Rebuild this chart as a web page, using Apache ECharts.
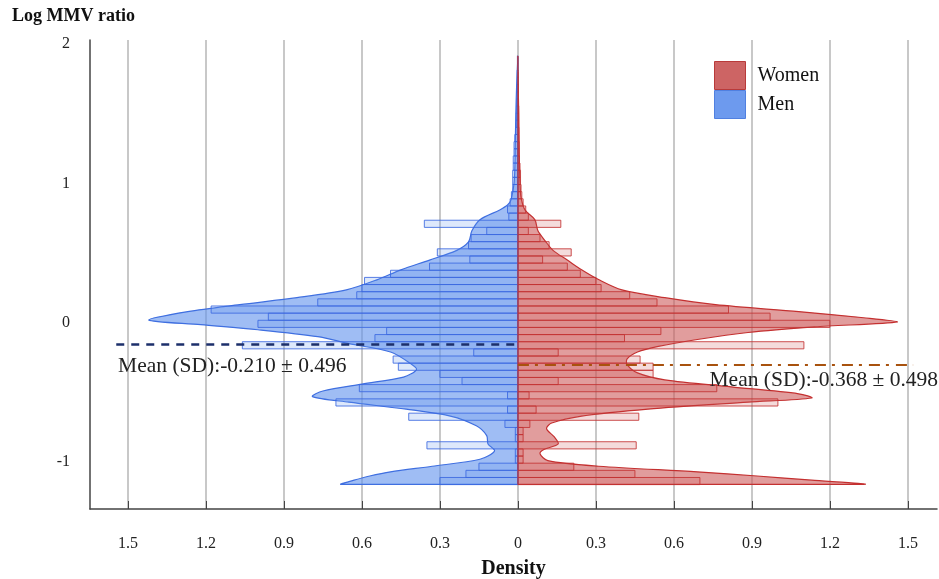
<!DOCTYPE html>
<html>
<head>
<meta charset="utf-8">
<script src="https://cdn.jsdelivr.net/npm/echarts@6/dist/echarts.min.js"></script>
<style>
  html, body { margin: 0; padding: 0; background: #fff; }
  #chart { width: 939px; height: 579px; }
</style>
</head>
<body>
<div id="chart"></div>
<script>
// histogram bins (bottom edge of first bin and bin width, in log MMV ratio)
const binStart = -1.162
const binWidth = 0.0513

// bar lengths (density) per bin, from bottom to top
const womenBins = [
  0.7, 0.45, 0.215, 0.02, 0.02, 0.455, 0.02, 0.02, 0.046, 0.465,
  0.07, 1.0, 0.043, 0.765, 0.155, 0.52, 0.52, 0.47, 0.155, 1.1,
  0.41, 0.55, 1.2, 0.97, 0.81, 0.535, 0.43, 0.32, 0.3, 0.24,
  0.19, 0.095, 0.205, 0.12, 0.085, 0.04, 0.165, 0.04, 0.03, 0.02,
  0.015, 0.012, 0.01, 0.01, 0.008, 0.006, 0.005, 0.005, 0.004, 0.004,
  0.003, 0.003, 0.003, 0.002, 0.002, 0.002, 0.001, 0.001, 0, 0
]
const menBins = [
  0.3, 0.2, 0.15, 0.01, 0.01, 0.35, 0.01, 0.01, 0.05, 0.42,
  0.04, 0.7, 0.04, 0.61, 0.215, 0.3, 0.46, 0.48, 0.17, 1.06,
  0.55, 0.505, 1.0, 0.96, 1.18, 0.77, 0.62, 0.6, 0.59, 0.49,
  0.34, 0.185, 0.31, 0.19, 0.18, 0.12, 0.36, 0.035, 0.04, 0.03,
  0.025, 0.02, 0.02, 0.02, 0.018, 0.018, 0.015, 0.015, 0.012, 0.008,
  0.006, 0.006, 0.005, 0.005, 0.004, 0.004, 0.003, 0.003, 0.002, 0.002
]

// smoothed density curves: [log MMV ratio, density]
const womenDensity = [
  [1.8, 0], [1.5, 0.003], [1.2, 0.005], [1.0, 0.008], [0.9, 0.012], [0.81, 0.027],
  [0.74, 0.065], [0.66, 0.077], [0.59, 0.104], [0.52, 0.135], [0.45, 0.19], [0.38, 0.245],
  [0.31, 0.31], [0.236, 0.4], [0.18, 0.565], [0.13, 0.76], [0.08, 1.08], [0.036, 1.33],
  [0.007, 1.46], [-0.03, 1.14], [-0.07, 0.885], [-0.12, 0.69], [-0.17, 0.54], [-0.21, 0.46],
  [-0.26, 0.42], [-0.3, 0.42], [-0.36, 0.46], [-0.41, 0.565], [-0.46, 0.82], [-0.51, 1.08],
  [-0.54, 1.13], [-0.57, 0.885], [-0.62, 0.5], [-0.67, 0.245], [-0.72, 0.13], [-0.76, 0.11],
  [-0.82, 0.14], [-0.87, 0.155], [-0.91, 0.1], [-0.94, 0.085], [-0.99, 0.115], [-1.03, 0.31],
  [-1.07, 0.69], [-1.1, 0.92], [-1.13, 1.13], [-1.16, 1.33]
]
const menDensity = [
  [1.91, 0], [1.7, 0.005], [1.5, 0.008], [1.3, 0.01], [1.1, 0.012], [1.0, 0.015],
  [0.88, 0.027], [0.845, 0.04], [0.81, 0.07], [0.74, 0.146], [0.66, 0.177], [0.58, 0.19],
  [0.52, 0.235], [0.45, 0.34], [0.38, 0.45], [0.31, 0.54], [0.236, 0.66], [0.18, 0.85],
  [0.13, 1.07], [0.08, 1.27], [0.02, 1.42], [-0.014, 1.22], [-0.05, 1.0], [-0.1, 0.77],
  [-0.15, 0.65], [-0.21, 0.49], [-0.29, 0.415], [-0.335, 0.39], [-0.39, 0.44], [-0.44, 0.6],
  [-0.49, 0.75], [-0.53, 0.79], [-0.57, 0.65], [-0.62, 0.43], [-0.67, 0.26], [-0.74, 0.16],
  [-0.81, 0.12], [-0.87, 0.115], [-0.92, 0.09], [-0.98, 0.146], [-1.03, 0.33], [-1.07, 0.49],
  [-1.1, 0.57], [-1.13, 0.63], [-1.16, 0.68]
]

// mean reference lines (as drawn) and their labels
const menMeanLine = -0.153
const womenMeanLine = -0.304
const menLabel = 'Mean (SD):-0.210 ± 0.496'
const womenLabel = 'Mean (SD):-0.368 ± 0.498'

// axis ticks
const densityTicks = [-1.5, -1.2, -0.9, -0.6, -0.3, 0, 0.3, 0.6, 0.9, 1.2, 1.5]
const ratioTicks = [-1, 0, 1, 2]

const serif = "'Liberation Serif', 'Times New Roman', serif"

const chart = echarts.init(document.getElementById('chart'))

const binData = bins => bins.map((d, i) => [binStart + i * binWidth, binStart + (i + 1) * binWidth, d])

const barItem = (sign, fill, stroke) => (params, api) => {
  const lo = api.value(0)
  const hi = api.value(1)
  const d = api.value(2)
  const a = api.coord([0, hi])
  const b = api.coord([sign * d, lo])
  return {
    type: 'rect',
    shape: { x: Math.min(a[0], b[0]), y: a[1], width: Math.abs(b[0] - a[0]), height: b[1] - a[1] },
    style: { fill: fill, stroke: stroke, lineWidth: 1 }
  }
}

const densityItem = (points, sign, fill, stroke) => (params, api) => {
  if (params.dataIndex !== 0) return null
  const pts = points.map(p => api.coord([sign * p[1], p[0]]))
  pts.unshift(api.coord([0, points[0][0]]))
  pts.push(api.coord([0, points[points.length - 1][0]]))
  const xs = pts.map(p => p[0])
  const ys = pts.map(p => p[1])
  return {
    type: 'polygon',
    shape: {
      points: pts,
      smooth: 0.3,
      smoothConstraint: [[Math.min(...xs), Math.min(...ys)], [Math.max(...xs), Math.max(...ys)]]
    },
    style: { fill: fill, stroke: stroke, lineWidth: 1.2 }
  }
}

const option = {
  animation: false,
  title: {
    text: 'Log MMV ratio',
    left: 12, top: 7, padding: 0,
    textStyle: { fontFamily: serif, fontWeight: 'bold', fontSize: 18, color: '#111' }
  },
  legend: {
    orient: 'vertical',
    left: 714, top: 61, padding: 0,
    itemWidth: 31, itemHeight: 28, itemGap: 0,
    textStyle: { fontFamily: serif, fontSize: 20, color: '#111', padding: [0, 0, 0, 7] },
    data: [
      { name: 'Women', icon: 'rect', itemStyle: { color: '#cd6464', borderColor: '#b83a3a', borderWidth: 1 } },
      { name: 'Men', icon: 'rect', itemStyle: { color: '#6d9aee', borderColor: '#5080e0', borderWidth: 1 } }
    ]
  },
  grid: { left: 90, right: 2, top: 40, bottom: 70, containLabel: false, outerBoundsMode: 'none' },
  xAxis: {
    type: 'value',
    min: -1.646, max: 1.612,
    name: 'Density',
    nameLocation: 'middle',
    nameGap: 50,
    nameTextStyle: { fontFamily: serif, fontWeight: 'bold', fontSize: 20, color: '#111' },
    axisLine: { onZero: false, lineStyle: { color: '#444', width: 1.5 } },
    axisTick: { inside: true, length: 8, customValues: densityTicks, lineStyle: { color: '#444' } },
    axisLabel: {
      customValues: densityTicks,
      margin: 27,
      fontFamily: serif, fontSize: 16, color: '#222',
      formatter: v => String(Math.abs(v))
    },
    splitLine: { show: true, lineStyle: { color: '#c8c8c8', width: 2 } }
  },
  yAxis: {
    type: 'value',
    min: -1.337, max: 2.03,
    axisLine: { show: true, onZero: false, lineStyle: { color: '#444', width: 1.5 } },
    axisTick: { show: false },
    axisLabel: { customValues: ratioTicks, margin: 20, fontFamily: serif, fontSize: 16, color: '#222' },
    splitLine: { show: false }
  },
  series: [
    {
      name: 'Men',
      type: 'custom',
      itemStyle: { color: '#6d9aee' },
      renderItem: densityItem(menDensity, -1, 'rgba(100,149,237,0.62)', '#3f6fe0'),
      data: menDensity.map(p => [-p[1], p[0]]),
      encode: { x: 0, y: 1 },
      z: 2
    },
    {
      name: 'Women',
      type: 'custom',
      itemStyle: { color: '#cd6464' },
      renderItem: densityItem(womenDensity, 1, 'rgba(205,92,92,0.6)', '#c43030'),
      data: womenDensity.map(p => [p[1], p[0]]),
      encode: { x: 0, y: 1 },
      z: 2
    },
    {
      name: 'Men',
      type: 'custom',
      renderItem: barItem(-1, 'rgba(100,149,237,0.22)', 'rgba(60,105,225,0.85)'),
      data: binData(menBins),
      encode: { x: 2, y: 0 },
      z: 3,
      markLine: {
        silent: true, symbol: 'none',
        lineStyle: { color: '#1c2f6b', type: [8, 7], width: 2.5 },
        label: { show: false },
        data: [[{ coord: [-1.545, menMeanLine] }, { coord: [0, menMeanLine] }]]
      },
      markPoint: {
        silent: true, symbol: 'circle', symbolSize: 1,
        itemStyle: { color: 'rgba(0,0,0,0)' },
        label: { show: true, position: 'right', distance: 0, formatter: menLabel, fontFamily: serif, fontSize: 21.5, color: '#222' },
        data: [{ coord: [-1.54, -0.31] }]
      }
    },
    {
      name: 'Women',
      type: 'custom',
      renderItem: barItem(1, 'rgba(205,92,92,0.22)', 'rgba(195,50,50,0.85)'),
      data: binData(womenBins),
      encode: { x: 2, y: 0 },
      z: 3,
      markLine: {
        silent: true, symbol: 'none',
        lineStyle: { color: '#a8520e', type: [11, 6, 3, 7], width: 2 },
        label: { show: false },
        data: [[{ coord: [0, womenMeanLine] }, { coord: [1.52, womenMeanLine] }]]
      },
      markPoint: {
        silent: true, symbol: 'circle', symbolSize: 1,
        itemStyle: { color: 'rgba(0,0,0,0)' },
        label: { show: true, position: 'right', distance: 0, formatter: womenLabel, fontFamily: serif, fontSize: 21.5, color: '#222' },
        data: [{ coord: [0.735, -0.41] }]
      }
    }
  ]
}

chart.setOption(option)
</script>
</body>
</html>
